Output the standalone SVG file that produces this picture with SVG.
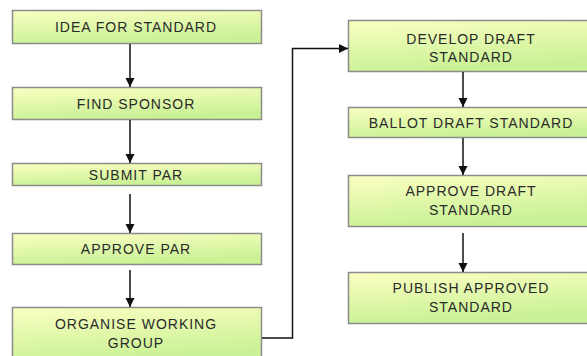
<svg xmlns="http://www.w3.org/2000/svg" width="587" height="356" viewBox="0 0 587 356">
<style>
.box{fill:url(#g);stroke:#8c8c8c;stroke-width:1.5}
.t{font-family:"Liberation Sans",Arial,sans-serif;font-size:14px;fill:#2a2a2a;text-anchor:middle;letter-spacing:1px}
.c{stroke:#111;stroke-width:1.5;fill:none}
</style>
<defs>
<linearGradient id="g" x1="0" y1="0" x2="0.3" y2="1">
<stop offset="0" stop-color="#fbffc2"/>
<stop offset="1" stop-color="#c9f195"/>
</linearGradient>
<marker id="a" markerWidth="10" markerHeight="10" refX="9" refY="5" orient="auto" markerUnits="userSpaceOnUse">
<path d="M0,0.5 L9,5 L0,9.5 Z" fill="#111"/>
</marker>
</defs>
<rect width="587" height="356" fill="#fff"/>
<g id="n1"><rect class="box" x="12.5" y="10.5" width="249" height="33"/><text class="t" x="136" y="32">IDEA FOR STANDARD</text></g>
<g id="n2"><rect class="box" x="12.5" y="87.5" width="249" height="32"/><text class="t" x="136" y="108.5">FIND SPONSOR</text></g>
<g id="n3"><rect class="box" x="12.5" y="163.5" width="249" height="22"/><text class="t" x="136" y="179.5">SUBMIT PAR</text></g>
<g id="n4"><rect class="box" x="12.5" y="233.5" width="249" height="31"/><text class="t" x="136" y="254">APPROVE PAR</text></g>
<g id="n5"><rect class="box" x="12.5" y="307.5" width="249" height="55"/><text class="t" x="136" y="329">ORGANISE WORKING</text><text class="t" x="136" y="348">GROUP</text></g>
<g id="n6"><rect class="box" x="348.5" y="20.5" width="246" height="51"/><text class="t" x="471" y="44">DEVELOP DRAFT</text><text class="t" x="471" y="62">STANDARD</text></g>
<g id="n7"><rect class="box" x="348.5" y="107.5" width="246" height="30"/><text class="t" x="471" y="127.5">BALLOT DRAFT STANDARD</text></g>
<g id="n8"><rect class="box" x="348.5" y="175.5" width="246" height="51"/><text class="t" x="471" y="196">APPROVE DRAFT</text><text class="t" x="471" y="214.5">STANDARD</text></g>
<g id="n9"><rect class="box" x="348.5" y="272.5" width="246" height="51"/><text class="t" x="471" y="293">PUBLISH APPROVED</text><text class="t" x="471" y="311.5">STANDARD</text></g>
<g id="connectors">
<path class="c" d="M130,44 V87" marker-end="url(#a)"/>
<path class="c" d="M130,120 V163" marker-end="url(#a)"/>
<path class="c" d="M130,194 V233" marker-end="url(#a)"/>
<path class="c" d="M130,270 V307" marker-end="url(#a)"/>
<path class="c" d="M262,338 H292.5 V48.5 H348" marker-end="url(#a)"/>
<path class="c" d="M463,72 V107" marker-end="url(#a)"/>
<path class="c" d="M463,138 V175" marker-end="url(#a)"/>
<path class="c" d="M463,233 V272" marker-end="url(#a)"/>
</g>
</svg>
